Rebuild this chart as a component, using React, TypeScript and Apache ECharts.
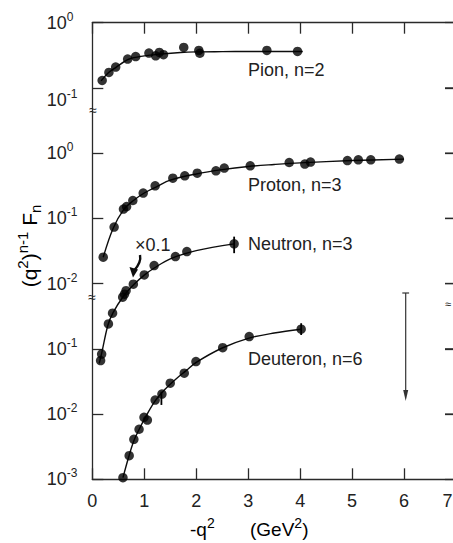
import React, { useEffect, useRef } from "react";
import * as echarts from "echarts";

const FONT = '"Liberation Sans", Arial, sans-serif';
const INK = "#0d0d0d";
const TXT = "#222";

// x axis ticks (−q², GeV²)
const xMin = 0;
const xMax = 7;
// y axis: stacked log panels, decade labels from bottom to top
const yTickExponents = ["-3", "-2", "-1", "-2", "-1", "0", "-1", "0"];
const rightTickPositions = [1, 2, 3, 4, 5, 6];
// panel offsets: displayed position = log10(value) + offset
const pionOffset = 7;
const protonOffset = 5;
const neutronOffset = 5;
const deuteronOffset = 3;
const neutronScale = 0.1;

// Pion, n=2
const pionQ2 = [0.19, 0.32, 0.45, 0.68, 0.835, 1.09, 1.22, 1.29, 1.37, 1.76, 2.05, 2.07, 3.36, 3.95];
const pionF = [0.13, 0.173, 0.209, 0.277, 0.303, 0.343, 0.311, 0.35, 0.323, 0.418, 0.376, 0.34, 0.376, 0.362];
const pionCurveQ2 = [0.17, 0.3, 0.45, 0.7, 1.0, 1.3, 1.7, 2.0, 2.5, 3.0, 4.05];
const pionCurveF = [0.128, 0.168, 0.205, 0.275, 0.31, 0.33, 0.35, 0.357, 0.36, 0.362, 0.362];

// Proton, n=3
const protonQ2 = [0.21, 0.42, 0.6, 0.66, 0.78, 0.98, 1.21, 1.55, 1.78, 2.02, 2.38, 2.54, 3.04, 3.79, 4.09, 4.2, 4.91, 5.12, 5.36, 5.91];
const protonF = [0.0254, 0.0735, 0.139, 0.152, 0.188, 0.244, 0.316, 0.414, 0.449, 0.494, 0.536, 0.59, 0.64, 0.719, 0.679, 0.729, 0.771, 0.791, 0.791, 0.811];
const protonCurveQ2 = [0.21, 0.4, 0.6, 0.8, 1.0, 1.25, 1.5, 2.0, 2.5, 3.0, 3.5, 4.0, 5.0, 6.0];
const protonCurveF = [0.0254, 0.07, 0.135, 0.19, 0.245, 0.31, 0.385, 0.48, 0.56, 0.625, 0.67, 0.71, 0.77, 0.81];

// Neutron, n=3 (plotted ×0.1)
const neutronQ2 = [0.16, 0.18, 0.31, 0.39, 0.585, 0.62, 0.65, 0.79, 1.0, 1.19, 1.6, 1.82, 2.73];
const neutronF = [0.0066, 0.0083, 0.0241, 0.0352, 0.062, 0.069, 0.078, 0.098, 0.136, 0.189, 0.26, 0.31, 0.407];
const neutronCurveQ2 = [0.134, 0.18, 0.3, 0.4, 0.6, 0.8, 1.0, 1.2, 1.5, 2.0, 2.73];
const neutronCurveF = [0.006, 0.0085, 0.023, 0.036, 0.064, 0.097, 0.135, 0.175, 0.24, 0.32, 0.407];
const neutronErrQ2 = [2.73];
const neutronErrLo = [0.293];
const neutronErrHi = [0.525];

// Deuteron, n=6
const deuteronQ2 = [0.59, 0.71, 0.8, 0.9, 0.995, 1.06, 1.21, 1.34, 1.5, 1.77, 1.995, 2.51, 3.02, 4.02];
const deuteronF = [0.00106, 0.0023, 0.0041, 0.00585, 0.0089, 0.0081, 0.0164, 0.0203, 0.0297, 0.0423, 0.0637, 0.104, 0.154, 0.2];
const deuteronCurveQ2 = [0.59, 0.7, 0.8, 0.9, 1.0, 1.2, 1.4, 1.6, 1.8, 2.0, 2.5, 3.0, 3.5, 4.02];
const deuteronCurveF = [0.00106, 0.0022, 0.0039, 0.0058, 0.0083, 0.0155, 0.024, 0.034, 0.046, 0.062, 0.103, 0.145, 0.175, 0.2];
const deuteronErrQ2 = [1.33, 4.02];
const deuteronErrLo = [0.0138, 0.163];
const deuteronErrHi = [0.022, 0.247];

const pos = (v: number, off: number, k = 1) => Math.log10(v * k) + off;
const pts = (xs: number[], ys: number[], off: number, k = 1) => xs.map((x, i) => [x, pos(ys[i], off, k)]);
const errs = (xs: number[], lo: number[], hi: number[], off: number, k = 1) =>
  xs.map((x, i) => [x, pos(lo[i], off, k), pos(hi[i], off, k)]);

export default function App() {
  const ref = useRef<HTMLDivElement>(null);
  useEffect(() => {
    if (!ref.current) return;
    const chart = echarts.init(ref.current, undefined, { renderer: "svg" });

    const curve = (data: number[][]) => ({
      type: "line",
      data,
      showSymbol: false,
      smooth: 0.35,
      lineStyle: { color: INK, width: 1.4 },
      z: 2,
    });
    const dots = (data: number[][]) => ({
      type: "scatter",
      data,
      symbol: "circle",
      symbolSize: 9.5,
      itemStyle: { color: "#000" },
      z: 3,
    });
    const errSeries = (data: number[][]) => ({
      type: "custom",
      data,
      z: 3,
      renderItem: (_p: any, api: any) => {
        const a = api.coord([api.value(0), api.value(1)]);
        const b = api.coord([api.value(0), api.value(2)]);
        return {
          type: "line",
          shape: { x1: a[0], y1: a[1], x2: b[0], y2: b[1] },
          style: { stroke: "#000", lineWidth: 1.8 },
        };
      },
    });
    const rightTicks = {
      type: "custom",
      data: rightTickPositions.map((v) => [xMax, v]),
      clip: false,
      z: 4,
      renderItem: (_p: any, api: any) => {
        const a = api.coord([api.value(0), api.value(1)]);
        return {
          type: "line",
          shape: { x1: a[0] - 11, y1: a[1], x2: a[0], y2: a[1] },
          style: { stroke: "#2a2a2a", lineWidth: 1.3 },
        };
      },
    };

    const supRich = {
      b: { fontSize: 18, lineHeight: 24, fontFamily: FONT, color: TXT },
      s: { fontSize: 12, lineHeight: 10, verticalAlign: "top", fontFamily: FONT, color: TXT },
    };
    const nameRich = {
      b: { fontSize: 21, lineHeight: 28, fontFamily: FONT, color: TXT },
      s: { fontSize: 15, lineHeight: 12, verticalAlign: "top", fontFamily: FONT, color: TXT },
      u: { fontSize: 15, lineHeight: 10, verticalAlign: "bottom", fontFamily: FONT, color: TXT },
    };
    const xNameRich = {
      b: { fontSize: 19, lineHeight: 26, fontFamily: FONT, color: TXT },
      s: { fontSize: 14, lineHeight: 11, verticalAlign: "top", fontFamily: FONT, color: TXT },
    };

    const axisLineStyle = { color: "#2a2a2a", width: 1.3 };

    chart.setOption({
      animation: false,
      backgroundColor: "#fff",
      grid: { left: 92.3, top: 22.7, width: 363.7, height: 456.6, outerBoundsMode: "none", containLabel: false },
      xAxis: [
        {
          type: "value",
          min: xMin,
          max: xMax,
          interval: 1,
          position: "bottom",
          axisLine: { show: true, onZero: false, lineStyle: axisLineStyle },
          axisTick: { show: true, inside: true, length: 11, lineStyle: axisLineStyle },
          axisLabel: {
            show: true,
            margin: 13,
            fontSize: 18,
            lineHeight: 18,
            fontFamily: FONT,
            color: TXT,
            showMinLabel: true,
            showMaxLabel: true,
            formatter: (v: number) => (v === xMax ? `{e|${v}}` : `${v}`),
            rich: { e: { fontSize: 18, lineHeight: 18, fontFamily: FONT, color: TXT, padding: [0, 17, 0, 0] } },
          },
          splitLine: { show: false },
        },
        {
          type: "value",
          min: xMin,
          max: xMax,
          interval: 1,
          position: "top",
          axisLine: { show: true, onZero: false, lineStyle: axisLineStyle },
          axisTick: { show: true, inside: true, length: 11, lineStyle: axisLineStyle },
          axisLabel: { show: false },
          splitLine: { show: false },
        },
      ],
      yAxis: [
        {
          type: "value",
          min: 0,
          max: 7,
          interval: 1,
          position: "left",
          axisLine: { show: true, onZero: false, lineStyle: axisLineStyle },
          axisTick: { show: true, inside: true, length: 11, lineStyle: axisLineStyle },
          axisLabel: {
            show: true,
            align: "left",
            margin: 45.5,
            lineHeight: 24,
            showMinLabel: true,
            showMaxLabel: true,
            formatter: (v: number) => {
              const i = Math.round(v);
              const lbl = `{b|10}{s|${yTickExponents[i]}}`;
              return i === 6 ? "\n" + lbl : lbl;
            },
            rich: supRich,
          },
          splitLine: { show: false },
        },
        {
          type: "value",
          min: 0,
          max: 7,
          interval: 1,
          position: "right",
          axisLine: { show: true, onZero: false, lineStyle: axisLineStyle },
          axisTick: { show: true, inside: true, length: 11, lineStyle: axisLineStyle },
          axisLabel: { show: false },
          splitLine: { show: false },
        },
      ],
      series: [
        curve(pts(pionCurveQ2, pionCurveF, pionOffset)),
        dots(pts(pionQ2, pionF, pionOffset)),
        curve(pts(protonCurveQ2, protonCurveF, protonOffset)),
        dots(pts(protonQ2, protonF, protonOffset)),
        curve(pts(neutronCurveQ2, neutronCurveF, neutronOffset, neutronScale)),
        dots(pts(neutronQ2, neutronF, neutronOffset, neutronScale)),
        errSeries(errs(neutronErrQ2, neutronErrLo, neutronErrHi, neutronOffset, neutronScale)),
        curve(pts(deuteronCurveQ2, deuteronCurveF, deuteronOffset)),
        dots(pts(deuteronQ2, deuteronF, deuteronOffset)),
        errSeries(errs(deuteronErrQ2, deuteronErrLo, deuteronErrHi, deuteronOffset)),
        rightTicks,
      ],
      graphic: [
        {
          type: "text",
          x: 29,
          y: 246,
          rotation: Math.PI / 2,
          style: {
            text: "{b|(q}{s|2}{b|)}{s|n-1}{b| F}{u|n}",
            rich: nameRich,
            align: "center",
            verticalAlign: "middle",
            textAlign: "center",
            textVerticalAlign: "middle",
          },
        },
        {
          type: "text",
          x: 190,
          y: 529,
          style: {
            text: "{b|-q}{s|2}",
            rich: xNameRich,
            align: "left",
            verticalAlign: "middle",
            textAlign: "left",
            textVerticalAlign: "middle",
          },
        },
        {
          type: "text",
          x: 250,
          y: 529,
          style: {
            text: "{b|(GeV}{s|2}{b|)}",
            rich: xNameRich,
            align: "left",
            verticalAlign: "middle",
            textAlign: "left",
            textVerticalAlign: "middle",
          },
        },
        ...[
          ["Pion, n=2", 69.5],
          ["Proton, n=3", 185],
          ["Neutron, n=3", 243.5],
          ["Deuteron, n=6", 359],
        ].map(([t, y]) => ({
          type: "text",
          x: 248,
          y: y as number,
          style: {
            text: t as string,
            fontSize: 18,
            fontFamily: FONT,
            fill: TXT,
            align: "left",
            verticalAlign: "middle",
            textAlign: "left",
            textVerticalAlign: "middle",
          },
        })),
        {
          type: "text",
          x: 135,
          y: 245,
          style: {
            text: "×0.1",
            fontSize: 18,
            fontFamily: FONT,
            fill: TXT,
            align: "left",
            verticalAlign: "middle",
            textAlign: "left",
            textVerticalAlign: "middle",
          },
        },
        {
          type: "bezierCurve",
          shape: { x1: 140, y1: 255, cpx1: 141.5, cpy1: 262, x2: 134.5, y2: 270 },
          style: { stroke: INK, lineWidth: 2.4, fill: "none" },
        },
        {
          type: "polygon",
          shape: { points: [[129.5, 267], [138, 269.5], [133, 277.5]] },
          style: { fill: INK },
        },
        {
          type: "line",
          shape: { x1: 405.7, y1: 293, x2: 405.7, y2: 394 },
          style: { stroke: "#333", lineWidth: 1.2 },
        },
        {
          type: "line",
          shape: { x1: 402.3, y1: 293, x2: 409.1, y2: 293 },
          style: { stroke: "#333", lineWidth: 1.2 },
        },
        {
          type: "polygon",
          shape: { points: [[403.2, 390], [408.2, 390], [405.7, 401]] },
          style: { fill: "#333" },
        },
        ...[
          [93, 110, 14],
          [92, 297, 14],
          [448, 304, 11],
        ].map(([x, y, fs]) => ({
          type: "text",
          x,
          y,
          style: {
            text: "≈",
            fontSize: fs,
            fontFamily: FONT,
            fill: TXT,
            align: "center",
            verticalAlign: "middle",
            textAlign: "center",
            textVerticalAlign: "middle",
          },
        })),
      ],
    });
    return () => chart.dispose();
  }, []);

  return (
    <div
      ref={ref}
      style={{ position: "fixed", left: 0, top: 0, width: 453, height: 543, background: "#fff" }}
    />
  );
}
